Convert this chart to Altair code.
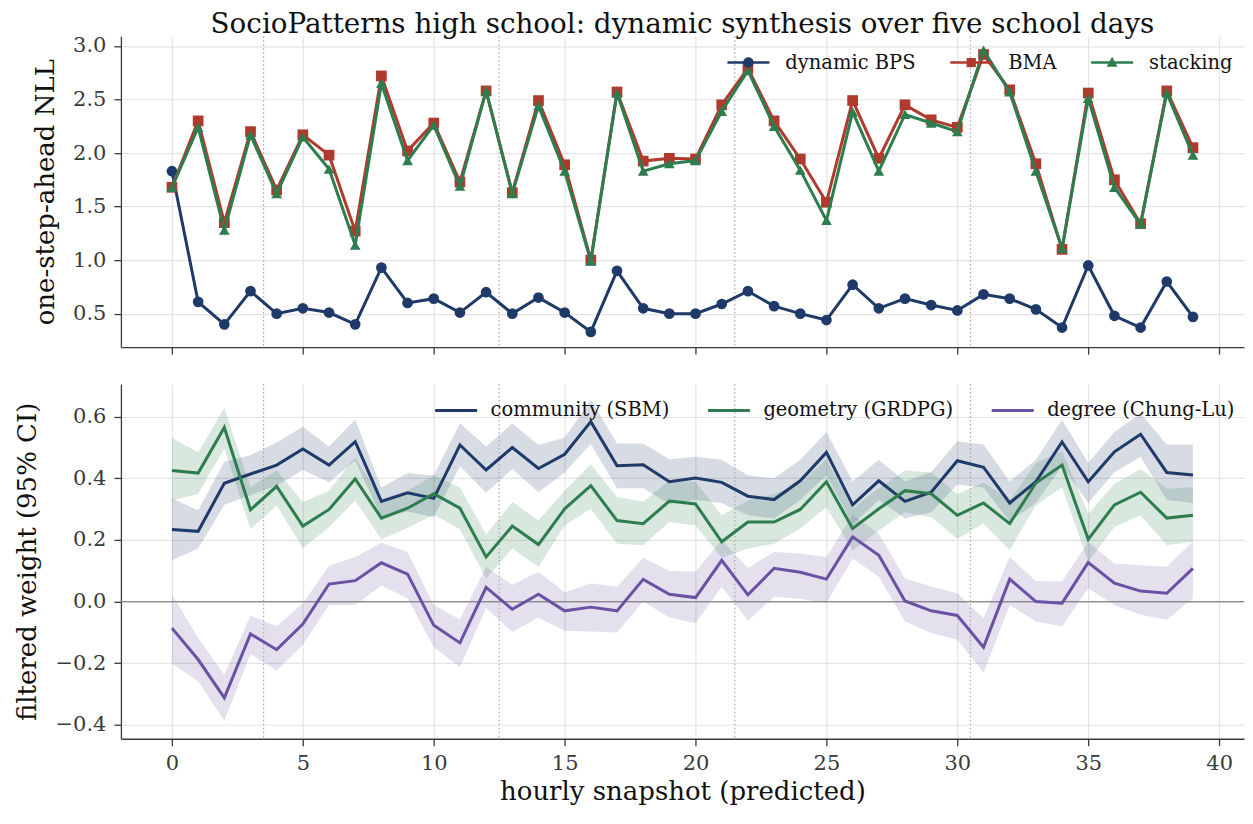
import altair as alt
import pandas as pd

FONT = "DejaVu Serif"

hours = list(range(40))

# top panel: one-step-ahead NLL
bps = [1.83, 0.61, 0.40, 0.71, 0.50, 0.55, 0.51, 0.40, 0.93, 0.60,
       0.64, 0.51, 0.70, 0.50, 0.65, 0.51, 0.33, 0.90, 0.55, 0.50,
       0.50, 0.59, 0.71, 0.57, 0.50, 0.44, 0.77, 0.55, 0.64, 0.58,
       0.53, 0.68, 0.64, 0.54, 0.37, 0.95, 0.48, 0.37, 0.80, 0.47]
bma = [1.68, 2.30, 1.35, 2.20, 1.655, 2.17, 1.98, 1.27, 2.72, 2.02,
       2.28, 1.73, 2.58, 1.63, 2.49, 1.89, 1.00, 2.57, 1.925, 1.95,
       1.944, 2.45, 2.79, 2.30, 1.944, 1.54, 2.49, 1.95, 2.45, 2.31,
       2.24, 2.92, 2.59, 1.90, 1.10, 2.56, 1.75, 1.34, 2.58, 2.05]
stacking = [1.68, 2.24, 1.28, 2.17, 1.62, 2.15, 1.85, 1.14, 2.65, 1.93,
            2.26, 1.69, 2.58, 1.62, 2.44, 1.83, 0.99, 2.56, 1.83, 1.90,
            1.93, 2.39, 2.77, 2.25, 1.84, 1.37, 2.385, 1.83, 2.36, 2.28,
            2.20, 2.96, 2.57, 1.83, 1.11, 2.51, 1.68, 1.335, 2.56, 1.98]

# bottom panel: filtered weights with 95% CI
community = [0.234, 0.228, 0.384, 0.414, 0.443, 0.495, 0.443, 0.519, 0.325, 0.353,
             0.335, 0.508, 0.427, 0.500, 0.432, 0.478, 0.584, 0.441, 0.444, 0.389,
             0.401, 0.387, 0.342, 0.331, 0.392, 0.484, 0.314, 0.392, 0.325, 0.355,
             0.457, 0.436, 0.320, 0.389, 0.518, 0.389, 0.486, 0.543, 0.419, 0.411]
community_lo = [0.134, 0.172, 0.314, 0.346, 0.376, 0.427, 0.387, 0.457, 0.274, 0.292,
                0.274, 0.439, 0.353, 0.430, 0.355, 0.419, 0.511, 0.368, 0.368, 0.317,
                0.330, 0.320, 0.280, 0.270, 0.330, 0.410, 0.250, 0.330, 0.270, 0.290,
                0.380, 0.370, 0.260, 0.320, 0.440, 0.320, 0.420, 0.470, 0.330, 0.320]
community_hi = [0.335, 0.296, 0.454, 0.475, 0.516, 0.567, 0.503, 0.591, 0.370, 0.417,
                0.409, 0.579, 0.503, 0.578, 0.508, 0.532, 0.654, 0.513, 0.513, 0.462,
                0.470, 0.460, 0.410, 0.400, 0.460, 0.550, 0.390, 0.460, 0.390, 0.420,
                0.520, 0.510, 0.390, 0.460, 0.590, 0.450, 0.550, 0.610, 0.510, 0.510]
geometry = [0.425, 0.417, 0.565, 0.298, 0.374, 0.245, 0.299, 0.398, 0.271, 0.303,
            0.350, 0.303, 0.145, 0.245, 0.185, 0.301, 0.376, 0.263, 0.253, 0.326,
            0.317, 0.194, 0.258, 0.258, 0.299, 0.389, 0.237, 0.301, 0.360, 0.350,
            0.280, 0.320, 0.253, 0.385, 0.443, 0.202, 0.314, 0.355, 0.271, 0.280]
geometry_lo = [0.328, 0.349, 0.497, 0.235, 0.312, 0.172, 0.242, 0.328, 0.202, 0.239,
               0.282, 0.235, 0.075, 0.172, 0.113, 0.247, 0.301, 0.188, 0.183, 0.258,
               0.247, 0.142, 0.172, 0.188, 0.237, 0.306, 0.167, 0.231, 0.290, 0.274,
               0.204, 0.253, 0.167, 0.312, 0.371, 0.129, 0.242, 0.280, 0.183, 0.194]
geometry_hi = [0.532, 0.484, 0.629, 0.371, 0.425, 0.323, 0.360, 0.468, 0.333, 0.360,
               0.409, 0.371, 0.217, 0.323, 0.263, 0.360, 0.446, 0.339, 0.325, 0.392,
               0.389, 0.280, 0.328, 0.349, 0.382, 0.462, 0.301, 0.368, 0.425, 0.419,
               0.349, 0.387, 0.328, 0.449, 0.489, 0.285, 0.382, 0.430, 0.366, 0.371]
degree = [-0.086, -0.188, -0.312, -0.105, -0.156, -0.073, 0.057, 0.068, 0.126, 0.089,
          -0.077, -0.134, 0.046, -0.025, 0.024, -0.030, -0.018, -0.030, 0.072, 0.024,
          0.013, 0.134, 0.022, 0.108, 0.095, 0.073, 0.210, 0.150, 0.002, -0.030,
          -0.045, -0.148, 0.073, 0.000, -0.005, 0.127, 0.060, 0.034, 0.027, 0.108]
degree_lo = [-0.202, -0.258, -0.387, -0.170, -0.224, -0.140, -0.011, -0.011, 0.052, 0.011,
             -0.148, -0.213, -0.021, -0.099, -0.052, -0.095, -0.097, -0.100, 0.000, -0.052,
             -0.070, 0.048, -0.062, 0.016, 0.009, -0.005, 0.140, 0.081, -0.065, -0.102,
             -0.124, -0.231, -0.011, -0.065, -0.081, 0.043, -0.011, -0.043, -0.059, 0.011]
degree_hi = [0.024, -0.118, -0.237, -0.045, -0.080, -0.005, 0.116, 0.145, 0.191, 0.161,
             -0.011, -0.058, 0.113, 0.054, 0.097, 0.030, 0.059, 0.048, 0.142, 0.099,
             0.097, 0.199, 0.110, 0.161, 0.156, 0.145, 0.282, 0.220, 0.075, 0.049,
             0.027, -0.054, 0.145, 0.067, 0.065, 0.193, 0.124, 0.118, 0.113, 0.196]

day_breaks = [3.5, 12.5, 21.5, 30.5]

nll_series = ["dynamic BPS", "BMA", "stacking"]
nll_colors = ["#1f3a68", "#b03a2e", "#2e7d4f"]
nll_shapes = ["circle", "square", "triangle-up"]
# legend handles: a short line with the marker in its middle
nll_legend_paths = [
    "M-1,-0.06H1V0.06H-1Z M0.25,0A0.25,0.25,0,1,1,-0.25,0A0.25,0.25,0,1,1,0.25,0Z",
    "M-1,-0.06H1V0.06H-1Z M-0.22,-0.22H0.22V0.22H-0.22Z",
    "M-1,-0.06H1V0.06H-1Z M0,-0.28L0.26,0.2H-0.26Z",
]

w_series = ["community (SBM)", "geometry (GRDPG)", "degree (Chung-Lu)"]
w_colors = ["#1f3a68", "#2e7d4f", "#6a51a3"]

top_df = pd.DataFrame({
    "hour": hours * 3,
    "series": [nll_series[0]] * 40 + [nll_series[1]] * 40 + [nll_series[2]] * 40,
    "nll": bps + bma + stacking,
})
bot_df = pd.DataFrame({
    "hour": hours * 3,
    "series": [w_series[0]] * 40 + [w_series[1]] * 40 + [w_series[2]] * 40,
    "w": community + geometry + degree,
    "lo": community_lo + geometry_lo + degree_lo,
    "hi": community_hi + geometry_hi + degree_hi,
})
breaks_df = pd.DataFrame({"hour": day_breaks})
zero_df = pd.DataFrame({"w": [0.0]})

PLOT_W = 1124

xscale = alt.Scale(domain=[-1.95, 40.95], nice=False, zero=False)
x_ticks = list(range(0, 41, 5))

x_top = alt.X("hour:Q", scale=xscale,
              axis=alt.Axis(values=x_ticks, labels=False, title=None, grid=True))
x_bot = alt.X("hour:Q", scale=xscale,
              axis=alt.Axis(values=x_ticks, title="hourly snapshot (predicted)",
                            grid=True, labelPadding=7, titlePadding=5))

y_top_scale = alt.Scale(domain=[0.188, 3.09], nice=False, zero=False)
y_top = alt.Y("nll:Q", scale=y_top_scale,
              axis=alt.Axis(values=[0.5, 1.0, 1.5, 2.0, 2.5, 3.0], format=".1f",
                            title="one-step-ahead NLL", grid=True, titlePadding=14))

y_bot_scale = alt.Scale(domain=[-0.445, 0.706], nice=False, zero=False)
y_bot_axis = alt.Axis(values=[-0.4, -0.2, 0.0, 0.2, 0.4, 0.6],
                      labelExpr="replace(format(datum.value, '.1f'), '-', '\u2212')",
                      title="filtered weight (95% CI)", grid=True, titlePadding=14)

# ---- top panel ----
top_rules = alt.Chart(breaks_df).mark_rule(
    color="#a8a8a8", strokeDash=[1.5, 2.5], strokeWidth=1.2
).encode(x=x_top)

top_layers = [top_rules]
for s, col, shp in zip(nll_series, nll_colors, nll_shapes):
    base = alt.Chart(top_df).transform_filter(alt.datum.series == s)
    top_layers.append(
        base.mark_line(strokeWidth=3, color=col).encode(x=x_top, y=y_top))
    top_layers.append(
        base.mark_point(filled=True, opacity=1, shape=shp, size=115, color=col)
        .encode(x=x_top, y=y_top))

top_legend = alt.Legend(
    title=None, orient="none", legendX=607, legendY=5, direction="horizontal",
    columns=3, symbolSize=1764, symbolStrokeWidth=0, symbolOpacity=1,
    columnPadding=34, labelOffset=16, padding=0, labelLimit=400,
)
legend_layer = alt.Chart(top_df).mark_point(filled=True, opacity=0).encode(
    x=x_top, y=y_top,
    color=alt.Color("series:N", scale=alt.Scale(domain=nll_series, range=nll_colors),
                    legend=top_legend),
    shape=alt.Shape("series:N",
                    scale=alt.Scale(domain=nll_series, range=nll_legend_paths),
                    legend=top_legend),
)
top_layers.append(legend_layer)

top = alt.layer(*top_layers).properties(
    width=PLOT_W, height=311,
    title=alt.TitleParams(
        "SocioPatterns high school: dynamic synthesis over five school days",
        anchor="middle", offset=-4),
)

# ---- bottom panel ----
bot_layers = []
for s, col in zip(w_series, w_colors):
    bot_layers.append(
        alt.Chart(bot_df).transform_filter(alt.datum.series == s)
        .mark_area(opacity=0.18, color=col)
        .encode(x=x_bot,
                y=alt.Y("lo:Q", scale=y_bot_scale, axis=y_bot_axis),
                y2="hi:Q"))
bot_layers.append(
    alt.Chart(zero_df).mark_rule(color="#8a8a8a", strokeWidth=1.3)
    .encode(y=alt.Y("w:Q", scale=y_bot_scale, axis=y_bot_axis)))
bot_layers.append(
    alt.Chart(breaks_df).mark_rule(color="#a8a8a8", strokeDash=[1.5, 2.5], strokeWidth=1.2)
    .encode(x=x_bot))
bot_legend = alt.Legend(
    title=None, orient="none", legendX=313, legendY=4, direction="horizontal",
    columns=3, symbolType="stroke", symbolSize=1764, symbolStrokeWidth=3,
    columnPadding=32, labelOffset=12, padding=0, labelLimit=400,
)
bot_layers.append(
    alt.Chart(bot_df).mark_line(strokeWidth=3).encode(
        x=x_bot,
        y=alt.Y("w:Q", scale=y_bot_scale, axis=y_bot_axis),
        color=alt.Color("series:N", scale=alt.Scale(domain=w_series, range=w_colors),
                        legend=bot_legend)))
bottom = alt.layer(*bot_layers).properties(width=PLOT_W, height=355)

chart = alt.vconcat(top, bottom, spacing=28).resolve_scale(
    color="independent", shape="independent"
).properties(
    padding={"left": 7, "top": 2, "right": 0, "bottom": 0}
).configure_view(stroke=None).configure_axis(
    labelFont=FONT, titleFont=FONT, labelFontSize=21, titleFontSize=26,
    labelColor="#3a3a3a", titleColor="#111111", titleFontWeight="normal",
    domainColor="#3a3a3a", domainWidth=1.3, tickColor="#3a3a3a", tickWidth=1.3,
    tickSize=7, labelPadding=8, gridColor="#e4e4e4", gridWidth=1.2,
).configure_title(
    font=FONT, fontSize=27.8, fontWeight="normal", color="#111111",
).configure_legend(
    labelFont=FONT, labelFontSize=19.5, labelColor="#111111",
)

chart.save("out.html", embed_options={"renderer": "svg", "actions": False})
